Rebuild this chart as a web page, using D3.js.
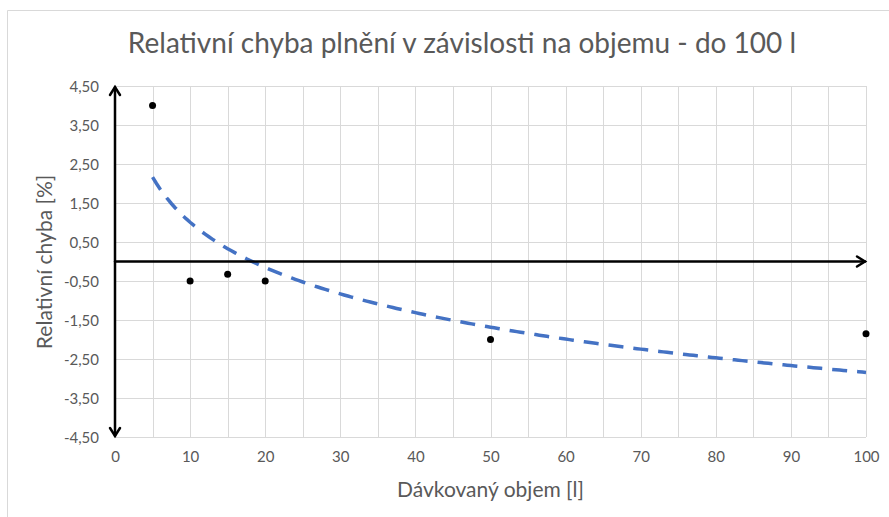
<!DOCTYPE html>
<html>
<head>
<meta charset="utf-8">
<script src="https://cdn.jsdelivr.net/npm/d3@7"></script>
<style>
  html, body { margin: 0; padding: 0; background: #fff; }
  svg { display: block; }
  text { font-family: Lato, "Open Sans", sans-serif; fill: #595959; }
</style>
</head>
<body>
<svg id="chart" width="889" height="517"></svg>
<script>
// ---- data ----
const title = "Relativní chyba plnění v závislosti na objemu - do 100 l";
const xTitle = "Dávkovaný objem [l]";
const yTitle = "Relativní chyba [%]";
const volumes = [5, 10, 15, 20, 50, 100];            // Dávkovaný objem [l]
const errors = [4.0, -0.5, -0.33, -0.5, -2.0, -1.85]; // Relativní chyba [%]
const xTicks = [0, 10, 20, 30, 40, 50, 60, 70, 80, 90, 100];
const yTicks = [4.5, 3.5, 2.5, 1.5, 0.5, -0.5, -1.5, -2.5, -3.5, -4.5];

const svg = d3.select("#chart");
const W = 889, H = 517;

// chart frame
svg.append("path")
  .attr("d", `M7.5,${H} V10.5 H${W}`)
  .attr("fill", "none").attr("stroke", "#d9d9d9").attr("stroke-width", 1);

const x = d3.scaleLinear().domain([0, 100]).range([115, 866]);
const y = d3.scaleLinear().domain([-4.5, 4.5]).range([437, 86]);

// gridlines
const grid = svg.append("g");
grid.selectAll("line.v").data(d3.range(0, 101, 5)).join("line")
  .attr("x1", d => Math.round(x(d)) + 0.5).attr("x2", d => Math.round(x(d)) + 0.5)
  .attr("y1", y(4.5)).attr("y2", y(-4.5))
  .attr("stroke", "#d9d9d9").attr("stroke-width", 1);
grid.selectAll("line.h").data(yTicks).join("line")
  .attr("y1", d => Math.round(y(d)) + 0.5).attr("y2", d => Math.round(y(d)) + 0.5)
  .attr("x1", x(0)).attr("x2", x(100))
  .attr("stroke", "#d9d9d9").attr("stroke-width", 1);

// axes (labels only)
const fmt = d => d3.format(".2f")(d).replace(".", ",").replace("−", "-");
const yAxis = svg.append("g").attr("transform", `translate(${x(0) - 16},0)`)
  .call(d3.axisLeft(y).tickValues(yTicks).tickFormat(fmt).tickSize(0).tickPadding(0));
yAxis.select(".domain").remove();
yAxis.selectAll("text").style("font-size", "15px").attr("fill", "#595959").attr("dy", "0.35em");

const xAxis = svg.append("g").attr("transform", `translate(0,${y(-4.5) + 14})`)
  .call(d3.axisBottom(x).tickValues(xTicks).tickSize(0).tickPadding(0));
xAxis.select(".domain").remove();
xAxis.selectAll("text").style("font-size", "15px").attr("fill", "#595959").attr("dy", "0.71em");

// logarithmic trendline (least squares fit of the data, like a spreadsheet trendline)
const lx = volumes.map(Math.log);
const mx = d3.mean(lx), my = d3.mean(errors);
const a = d3.sum(lx, (v, i) => (v - mx) * (errors[i] - my)) / d3.sum(lx, v => (v - mx) ** 2);
const b = my - a * mx;
const trendX = d3.range(5, 100.01, 0.5);
svg.append("path")
  .datum(trendX)
  .attr("d", d3.line().x(d => x(d)).y(d => y(a * Math.log(d) + b)))
  .attr("fill", "none").attr("stroke", "#4472c4").attr("stroke-width", 3.5)
  .attr("stroke-dasharray", "15,10");

// arrows (axes)
const ax = svg.append("g").attr("stroke", "#000").attr("stroke-width", 2.5).attr("fill", "none")
  .attr("stroke-linecap", "round").attr("stroke-linejoin", "miter");
const x0 = x(0), yTop = y(4.5), yBot = y(-4.5), y0 = y(0), xR = x(100);
ax.append("line").attr("x1", x0).attr("x2", x0).attr("y1", yTop + 1).attr("y2", yBot - 1);
ax.append("path").attr("d", `M${x0 - 5},${yTop + 9} L${x0},${yTop + 1} L${x0 + 5},${yTop + 9}`);
ax.append("path").attr("d", `M${x0 - 5},${yBot - 9} L${x0},${yBot - 1} L${x0 + 5},${yBot - 9}`);
ax.append("line").attr("x1", x0).attr("x2", xR - 1).attr("y1", y0).attr("y2", y0);
ax.append("path").attr("d", `M${xR - 9},${y0 - 5} L${xR - 1},${y0} L${xR - 9},${y0 + 5}`);

// points
svg.append("g").selectAll("circle").data(volumes).join("circle")
  .attr("cx", d => x(d)).attr("cy", (d, i) => y(errors[i])).attr("r", 3.5).attr("fill", "#000");

// titles
svg.append("text").attr("x", 462).attr("y", 53).attr("text-anchor", "middle")
  .style("font-size", "28px").text(title);
svg.append("text").attr("x", x(50)).attr("y", 497).attr("text-anchor", "middle")
  .style("font-size", "21px").text(xTitle);
svg.append("text").attr("transform", `translate(52,262) rotate(-90)`).attr("text-anchor", "middle")
  .style("font-size", "21px").text(yTitle);
</script>
</body>
</html>
